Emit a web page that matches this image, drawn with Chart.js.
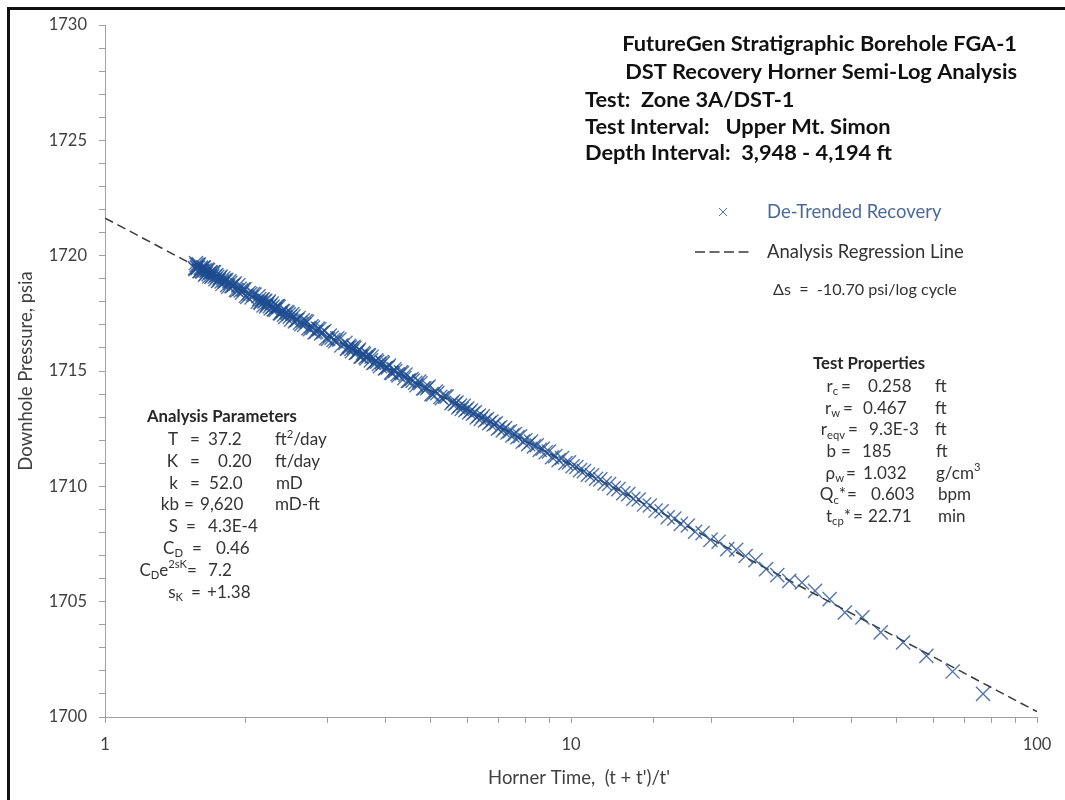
<!DOCTYPE html>
<html>
<head>
<meta charset="utf-8">
<title>FGA-1 DST Recovery Horner Semi-Log Analysis</title>
<script src="https://cdn.jsdelivr.net/npm/chart.js@4/dist/chart.umd.min.js"></script>
<style>
  html, body { margin: 0; padding: 0; background: #ffffff; }
  #wrap { position: relative; width: 1065px; height: 800px; }
  canvas { display: block; }
</style>
</head>
<body>
<div id="wrap"><canvas id="chart" width="1065" height="800"></canvas></div>
<script>
// Horner time (t + t')/t' of each recovery reading
const hornerTime = [
  1.560, 1.564, 1.568, 1.573, 1.577, 1.581, 1.586, 1.590, 1.595, 1.600, 1.605, 1.609, 1.614, 1.619, 1.625, 1.630, 1.635,
  1.640, 1.646, 1.651, 1.657, 1.663, 1.669, 1.675, 1.681, 1.687, 1.693, 1.700, 1.706, 1.713, 1.720, 1.726, 1.733, 1.741,
  1.748, 1.755, 1.763, 1.771, 1.779, 1.787, 1.795, 1.804, 1.812, 1.821, 1.830, 1.839, 1.849, 1.858, 1.868, 1.878, 1.888,
  1.899, 1.910, 1.921, 1.932, 1.944, 1.956, 1.968, 1.981, 1.993, 2.007, 2.020, 2.034, 2.049, 2.063, 2.078, 2.094,
  2.127, 2.135, 2.144, 2.152, 2.161, 2.170, 2.179, 2.189, 2.198, 2.207, 2.217, 2.227, 2.237, 2.247, 2.258, 2.268, 2.279,
  2.290, 2.301, 2.312, 2.324, 2.335, 2.347, 2.359, 2.372, 2.384, 2.397, 2.410, 2.423, 2.437, 2.451, 2.465, 2.479, 2.493,
  2.508, 2.524, 2.539, 2.555, 2.571, 2.587, 2.604, 2.621, 2.639, 2.657, 2.675, 2.694, 2.713, 2.733, 2.753, 2.773, 2.795,
  2.816, 2.838, 2.861, 2.884, 2.908, 2.932, 2.957, 2.983, 3.009, 3.036, 3.064, 3.092, 3.122, 3.152, 3.183, 3.215,
  3.281, 3.305, 3.316, 3.340, 3.352, 3.377, 3.389, 3.415, 3.428, 3.454, 3.467, 3.495, 3.508, 3.536, 3.551, 3.580, 3.594,
  3.624, 3.640, 3.671, 3.686, 3.719, 3.735, 3.768, 3.785, 3.820, 3.838, 3.873, 3.892, 3.929, 3.948, 3.987, 4.007, 4.047,
  4.068, 4.110, 4.131, 4.175, 4.197, 4.243, 4.266, 4.314, 4.338, 4.388, 4.414, 4.466, 4.492, 4.547, 4.575, 4.632, 4.661,
  4.721, 4.752, 4.815, 4.847, 4.914, 4.948, 5.018, 5.054, 5.127, 5.165, 5.243, 5.283, 5.365, 5.408,
  5.540, 5.586, 5.633, 5.680, 5.729, 5.779, 5.830, 5.882, 5.935, 5.989, 6.044, 6.101, 6.159, 6.218, 6.279, 6.341, 6.405,
  6.470, 6.537, 6.605, 6.675, 6.747, 6.821, 6.896, 6.974, 7.053, 7.135, 7.219, 7.306, 7.394, 7.486, 7.580, 7.676, 7.776,
  7.879, 7.985, 8.094, 8.206, 8.323, 8.443, 8.567, 8.695, 8.828, 8.965, 9.107, 9.255, 9.407, 9.566, 9.731, 9.902,
  10.08, 10.27, 10.46, 10.66, 10.87, 11.09, 11.32, 11.56, 11.81, 12.07, 12.35, 12.64, 12.95, 13.27, 13.61, 13.97, 14.35,
  14.76, 15.19, 15.65, 16.13, 16.66, 17.21, 17.81, 18.46, 19.16, 19.92, 20.74, 21.64, 22.62, 23.70, 24.89, 26.22, 27.71,
  29.4, 31.3, 33.4, 35.9, 38.7, 42.2, 46.2, 51.6, 57.9, 65.9, 76.6
];

// De-trended downhole pressure (psia) at each Horner time
const pressure = [
  1719.46, 1719.41, 1719.68, 1719.60, 1719.49, 1719.47, 1719.58, 1719.63, 1719.33, 1719.34, 1719.48, 1719.44, 1719.34, 1719.31, 1719.48, 1719.48, 1719.36,
  1719.18, 1719.22, 1719.34, 1719.40, 1719.37, 1719.20, 1719.10, 1719.28, 1719.27, 1719.08, 1719.14, 1719.29, 1719.28, 1719.09, 1718.98, 1719.16, 1719.08,
  1718.91, 1718.94, 1719.04, 1719.09, 1718.88, 1718.78, 1719.02, 1718.93, 1718.88, 1718.95, 1718.73, 1718.66, 1718.89, 1718.82, 1718.68, 1718.68, 1718.74,
  1718.80, 1718.52, 1718.49, 1718.71, 1718.56, 1718.49, 1718.40, 1718.54, 1718.54, 1718.26, 1718.21, 1718.38, 1718.34, 1718.19, 1718.33, 1718.31,
  1718.01, 1718.24, 1718.12, 1717.97, 1717.97, 1718.08, 1718.11, 1717.84, 1718.02, 1718.04, 1717.80, 1717.87, 1717.96, 1718.01, 1717.81, 1717.71, 1717.92,
  1717.79, 1717.67, 1717.68, 1717.65, 1717.80, 1717.81, 1717.78, 1717.51, 1717.50, 1717.60, 1717.60, 1717.44, 1717.34, 1717.56, 1717.53, 1717.46, 1717.35,
  1717.23, 1717.47, 1717.37, 1717.15, 1717.20, 1717.22, 1717.30, 1717.09, 1717.03, 1717.20, 1717.00, 1717.16, 1717.13, 1716.86, 1716.81, 1716.94, 1716.88,
  1716.67, 1716.70, 1716.84, 1716.81, 1716.63, 1716.68, 1716.73, 1716.42, 1716.39, 1716.54, 1716.44, 1716.35, 1716.29, 1716.42, 1716.36, 1716.11,
  1716.22, 1715.97, 1715.99, 1716.09, 1716.03, 1715.96, 1715.86, 1716.05, 1715.99, 1715.78, 1715.80, 1715.85, 1715.93, 1715.63, 1715.62, 1715.78, 1715.72,
  1715.60, 1715.55, 1715.69, 1715.67, 1715.46, 1715.62, 1715.35, 1715.37, 1715.46, 1715.40, 1715.31, 1715.21, 1715.39, 1715.33, 1715.11, 1715.13, 1715.16,
  1715.24, 1714.93, 1714.92, 1715.07, 1715.00, 1714.86, 1714.81, 1714.94, 1714.91, 1714.69, 1714.84, 1714.57, 1714.58, 1714.65, 1714.58, 1714.49, 1714.38,
  1714.54, 1714.47, 1714.24, 1714.25, 1714.26, 1714.33, 1714.00, 1713.98, 1714.11, 1714.04, 1713.88, 1713.82, 1713.90, 1713.89,
  1713.60, 1713.69, 1713.57, 1713.63, 1713.42, 1713.50, 1713.36, 1713.49, 1713.30, 1713.37, 1713.20, 1713.28, 1713.15, 1713.21, 1712.99, 1713.07, 1712.92,
  1713.04, 1712.86, 1712.92, 1712.74, 1712.81, 1712.68, 1712.73, 1712.50, 1712.57, 1712.42, 1712.53, 1712.34, 1712.39, 1712.21, 1712.27, 1712.13, 1712.17,
  1711.94, 1712.00, 1711.83, 1711.94, 1711.73, 1711.78, 1711.58, 1711.63, 1711.48, 1711.51, 1711.26, 1711.31, 1711.13, 1711.23, 1711.01, 1711.04,
  1710.87, 1710.84, 1710.70, 1710.66, 1710.51, 1710.48, 1710.33, 1710.30, 1710.13, 1710.10, 1709.92, 1709.88, 1709.70, 1709.66, 1709.46, 1709.43, 1709.21,
  1709.17, 1708.95, 1708.92, 1708.66, 1708.60, 1708.37, 1708.30, 1708.03, 1707.97, 1707.68, 1707.60, 1707.28, 1707.25, 1706.98, 1706.80, 1706.41, 1706.15,
  1705.90, 1705.83, 1705.47, 1705.11, 1704.53, 1704.32, 1703.67, 1703.23, 1702.65, 1701.97, 1701.00
];

// Straight-line semi-log fit (slope -10.70 psi per log cycle)
const regressionTime = [1, 100];
const regressionPressure = [1721.63, 1700.23];

// Labelled axis ticks
const pressureTickLabels = [1700, 1705, 1710, 1715, 1720, 1725, 1730];
const hornerTickLabels = [1, 10, 100];

// Header text
const titleLines = ['FutureGen Stratigraphic Borehole FGA-1', 'DST Recovery Horner Semi-Log Analysis'];
const testLines = ['Test:  Zone 3A/DST-1', 'Test Interval:   Upper Mt. Simon', 'Depth Interval:  3,948 - 4,194 ft'];
const seriesNames = ['De-Trended Recovery', 'Analysis Regression Line'];
const slopeNote = '\u0394s  =  -10.70 psi/log cycle';

// Parameter tables: [label parts, value, unit]
const analysisParameters = [
  [[['T', 'n']], '37.2', [['ft', 'n'], ['2', 'sup'], ['/day', 'n']]],
  [[['K', 'n']], '0.20', [['ft/day', 'n']]],
  [[['k', 'n']], '52.0', [['mD', 'n']]],
  [[['kb', 'n']], '9,620', [['mD-ft', 'n']]],
  [[['S', 'n']], '4.3E-4', []],
  [[['C', 'n'], ['D', 'sub']], '0.46', []],
  [[['C', 'n'], ['D', 'sub'], ['e', 'n'], ['2sK', 'sup']], '7.2', []],
  [[['s', 'n'], ['K', 'sub']], '+1.38', []]
];
const testProperties = [
  [[['r', 'n'], ['c', 'sub']], '0.258', [['ft', 'n']]],
  [[['r', 'n'], ['w', 'sub']], '0.467', [['ft', 'n']]],
  [[['r', 'n'], ['eqv', 'sub']], '9.3E-3', [['ft', 'n']]],
  [[['b', 'n']], '185', [['ft', 'n']]],
  [[['\u03c1', 'n'], ['w', 'sub']], '1.032', [['g/cm', 'n'], ['3', 'sup']]],
  [[['Q', 'n'], ['c', 'sub'], ['*', 'n']], '0.603', [['bpm', 'n']]],
  [[['t', 'n'], ['cp', 'sub'], ['*', 'n']], '22.71', [['min', 'n']]]
];

// Column placement for the two tables: [label right, "=" centre, value left, unit left]
const analysisColumns = [
  [178, 195, 208, 275], [178, 195, 218, 275], [178, 195, 209, 276], [179, 189, 200, 275],
  [178, 191, 208, 0], [183, 197, 216, 0], [187, 192, 208, 0], [183, 196, 207, 0]
];
const propertyColumns = [
  [838, 846, 868, 935], [840, 848, 863, 935], [845, 853, 869, 935], [836, 846, 862, 936],
  [844, 851, 863, 936], [846, 852, 871, 938], [851, 858, 868, 938]
];

const FONT = 'Lato, "Open Sans", "DejaVu Sans", sans-serif';
const POINT_COLOR = 'rgba(30, 76, 145, 0.76)';
const LINE_COLOR = '#3a3a3a';
const TEXT_COLOR = '#404040';

function fitSize(ctx, text, weight, target) {
  ctx.font = weight + ' 20px ' + FONT;
  return 20 * target / ctx.measureText(text).width;
}

function drawRich(ctx, parts, x, y, size, align, color, weight) {
  const fontFor = (kind) => weight + ' ' + (kind === 'n' ? size : size * 0.66).toFixed(2) + 'px ' + FONT;
  let total = 0;
  for (const [t, k] of parts) { ctx.font = fontFor(k); total += ctx.measureText(t).width; }
  let cx = align === 'right' ? x - total : (align === 'center' ? x - total / 2 : x);
  ctx.textAlign = 'left';
  ctx.textBaseline = 'middle';
  ctx.fillStyle = color;
  for (const [t, k] of parts) {
    ctx.font = fontFor(k);
    const dy = k === 'sub' ? size * 0.3 : (k === 'sup' ? -size * 0.33 : 0);
    ctx.fillText(t, cx, y + dy);
    cx += ctx.measureText(t).width;
  }
}

function drawTable(ctx, header, rows, cols, headerX, headerY, firstRowY, rowStep, headerWidth) {
  const hs = fitSize(ctx, header, 'bold', headerWidth);
  ctx.fillStyle = '#262626';
  ctx.font = 'bold ' + hs.toFixed(2) + 'px ' + FONT;
  ctx.textAlign = 'left';
  ctx.textBaseline = 'middle';
  ctx.fillText(header, headerX, headerY);
  const size = hs * 1.02;
  rows.forEach((row, i) => {
    const y = firstRowY + i * rowStep;
    const [lx, ex, vx, ux] = cols[i];
    drawRich(ctx, row[0], lx, y, size, 'right', '#333333', 'normal');
    drawRich(ctx, [['=', 'n']], ex, y, size, 'center', '#333333', 'normal');
    drawRich(ctx, [[row[1], 'n']], vx, y, size, 'left', '#333333', 'normal');
    if (row[2].length) drawRich(ctx, row[2], ux, y, size, 'left', '#333333', 'normal');
  });
}

function drawCross(ctx, x, y, r, color) {
  ctx.save();
  ctx.strokeStyle = color;
  ctx.lineWidth = 1;
  ctx.beginPath();
  ctx.moveTo(x - r, y - r); ctx.lineTo(x + r, y + r);
  ctx.moveTo(x + r, y - r); ctx.lineTo(x - r, y + r);
  ctx.stroke();
  ctx.restore();
}

const annotations = {
  id: 'annotations',
  afterDraw(chart) {
    const ctx = chart.ctx;
    ctx.save();

    // frame
    ctx.fillStyle = '#111111';
    ctx.fillRect(7, 7, 3, 793);
    ctx.fillRect(7, 7, 1058, 3);

    // header block
    const ts = fitSize(ctx, titleLines[0], 'bold', 395);
    ctx.font = 'bold ' + ts.toFixed(2) + 'px ' + FONT;
    ctx.fillStyle = '#111111';
    ctx.textBaseline = 'middle';
    ctx.textAlign = 'right';
    ctx.fillText(titleLines[0], 1017, 44);
    ctx.fillText(titleLines[1], 1017, 72);
    ctx.textAlign = 'left';
    testLines.forEach((t, i) => ctx.fillText(t, 585, 100 + i * 26.7));

    // legend
    const ls = fitSize(ctx, seriesNames[1], 'normal', 197);
    drawCross(ctx, 723, 212, 4, 'rgba(60, 95, 150, 0.9)');
    drawRich(ctx, [[seriesNames[0], 'n']], 767, 212, ls, 'left', '#4a6a9c', 'normal');
    ctx.save();
    ctx.strokeStyle = LINE_COLOR;
    ctx.lineWidth = 1.5;
    ctx.setLineDash([10, 4.5]);
    ctx.beginPath();
    ctx.moveTo(695, 252); ctx.lineTo(750, 252);
    ctx.stroke();
    ctx.restore();
    drawRich(ctx, [[seriesNames[1], 'n']], 767, 252, ls, 'left', '#333333', 'normal');
    const ns = fitSize(ctx, slopeNote, 'normal', 184);
    drawRich(ctx, [[slopeNote, 'n']], 773, 290, ns, 'left', '#333333', 'normal');

    // parameter tables
    drawTable(ctx, 'Analysis Parameters', analysisParameters, analysisColumns, 147, 417, 439.5, 21.8, 150);
    drawTable(ctx, 'Test Properties', testProperties, propertyColumns, 813, 363.5, 386.5, 21.7, 112);

    // axis titles
    const as = fitSize(ctx, 'Horner Time,  (t + t\')/t\'', 'normal', 182);
    ctx.font = as.toFixed(2) + 'px ' + FONT;
    ctx.fillStyle = TEXT_COLOR;
    ctx.textAlign = 'center';
    ctx.textBaseline = 'middle';
    ctx.fillText('Horner Time,  (t + t\')/t\'', 579, 778);
    ctx.translate(26, 371);
    ctx.rotate(-Math.PI / 2);
    ctx.fillText('Downhole Pressure, psia', 0, 0);
    ctx.restore();
  }
};

const points = hornerTime.map((t, i) => ({ x: t, y: pressure[i] }));
const regression = regressionTime.map((t, i) => ({ x: t, y: regressionPressure[i] }));

new Chart(document.getElementById('chart'), {
  type: 'scatter',
  data: {
    datasets: [
      {
        label: seriesNames[0],
        data: points,
        pointStyle: 'crossRot',
        pointRadius: 10,
        pointBorderWidth: 1.4,
        pointBorderColor: POINT_COLOR,
        pointBackgroundColor: POINT_COLOR,
        showLine: false
      },
      {
        label: seriesNames[1],
        data: regression,
        showLine: true,
        pointRadius: 0,
        borderColor: LINE_COLOR,
        borderWidth: 1.5,
        borderDash: [9, 5]
      }
    ]
  },
  options: {
    responsive: false,
    animation: false,
    devicePixelRatio: 1,
    layout: { padding: { top: 25, right: 28, bottom: 0, left: 0 } },
    plugins: { legend: { display: false }, tooltip: { enabled: false }, title: { display: false } },
    scales: {
      x: {
        type: 'logarithmic',
        position: 'bottom',
        min: 1,
        max: 100,
        border: { display: true, color: '#a0a0a0', width: 1 },
        grid: { drawOnChartArea: false, drawTicks: true, tickLength: 6, color: '#a0a0a0' },
        ticks: {
          autoSkip: false,
          maxRotation: 0,
          padding: 12,
          color: TEXT_COLOR,
          font: { family: FONT, size: 16.5 },
          callback: (v) => hornerTickLabels.includes(v) ? String(v) : ''
        },
        afterFit: (scale) => { scale.height = 83; }
      },
      y: {
        type: 'linear',
        position: 'left',
        min: 1700,
        max: 1730,
        border: { display: true, color: '#a0a0a0', width: 1 },
        grid: { drawOnChartArea: false, drawTicks: true, tickLength: 6, color: '#a0a0a0' },
        ticks: {
          stepSize: 1,
          autoSkip: false,
          padding: 12,
          color: TEXT_COLOR,
          font: { family: FONT, size: 16.5 },
          callback: (v) => pressureTickLabels.includes(v) ? String(v) : ''
        },
        afterFit: (scale) => { scale.width = 105; }
      }
    }
  },
  plugins: [annotations]
});
</script>
</body>
</html>
